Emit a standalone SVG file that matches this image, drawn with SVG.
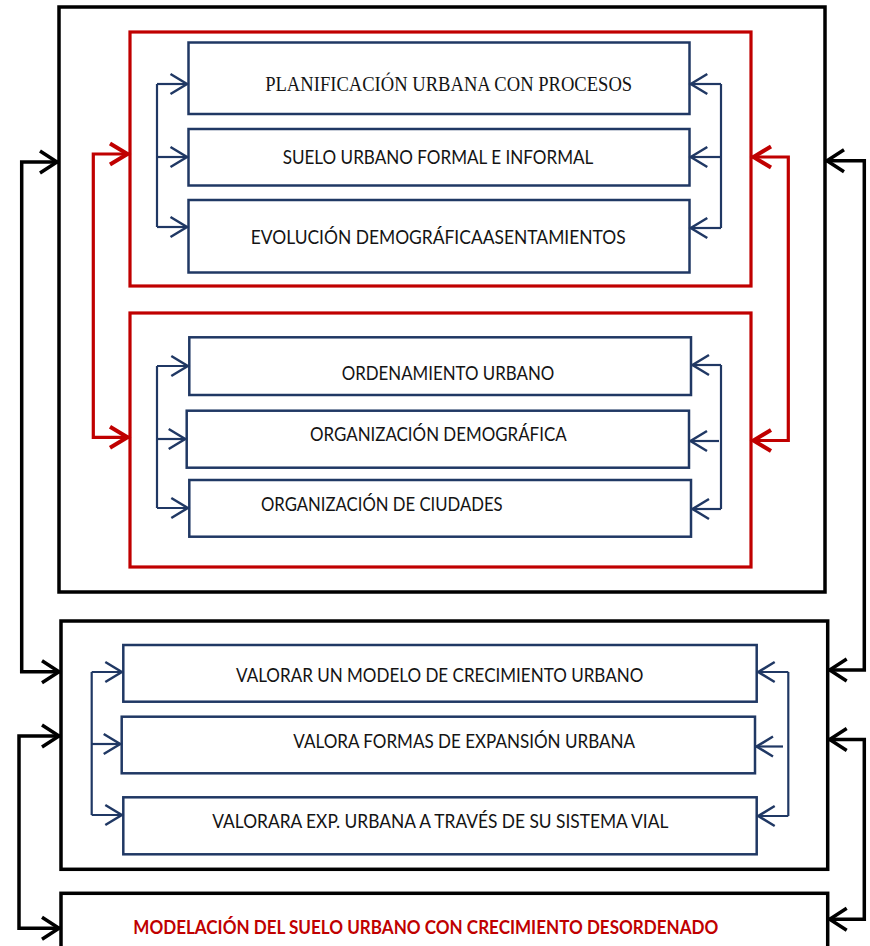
<svg xmlns="http://www.w3.org/2000/svg" width="870" height="946" viewBox="0 0 870 946">
<style>
.bg{fill:#ffffff}
.blk{fill:#ffffff;stroke:#000000;stroke-width:3.5}
.red{fill:none;stroke:#C00000;stroke-width:3.2}
.blu{fill:#ffffff;stroke:#203864;stroke-width:2.5}
.t{font-family:Lato,"Open Sans","Liberation Sans",sans-serif;font-size:19px;fill:#141414;text-anchor:middle}
.ts{font-family:"Liberation Serif","Times New Roman",serif;font-size:20px;fill:#141414;text-anchor:middle}
.tr{font-family:Lato,"Open Sans","Liberation Sans",sans-serif;font-size:19px;font-weight:bold;fill:#C00000;text-anchor:middle}
.cb{fill:none;stroke:#203864;stroke-width:2.2}
.cr{fill:none;stroke:#C00000;stroke-width:3.2}
.ck{fill:none;stroke:#000000;stroke-width:3.5}
</style>
<defs>
<marker id="mb" markerUnits="userSpaceOnUse" markerWidth="30" markerHeight="30" refX="0" refY="0" orient="auto-start-reverse" overflow="visible">
<path d="M-18,-10 L-1.5,0 L-18,10" fill="none" stroke="#203864" stroke-width="2.5"/>
</marker>
<marker id="mr" markerUnits="userSpaceOnUse" markerWidth="30" markerHeight="30" refX="0" refY="0" orient="auto-start-reverse" overflow="visible">
<path d="M-20,-10.5 L-2.5,0 L-20,10.5" fill="none" stroke="#C00000" stroke-width="4"/>
</marker>
<marker id="mk" markerUnits="userSpaceOnUse" markerWidth="30" markerHeight="30" refX="0" refY="0" orient="auto-start-reverse" overflow="visible">
<path d="M-19,-11 L-2,0 L-19,11" fill="none" stroke="#000000" stroke-width="3.5"/>
</marker>
</defs>
<rect class="bg" x="0" y="0" width="870" height="946"/>

<g id="container-top">
<rect class="blk" x="59" y="7" width="766" height="585"/>
</g>
<g id="group-red-1">
<rect class="red" x="130" y="32" width="621" height="254"/>
</g>
<g id="group-red-2">
<rect class="red" x="130" y="313" width="621" height="254"/>
</g>

<g id="n-planificacion">
<rect class="blu" x="188.5" y="42.5" width="501" height="71.5"/>
<text class="ts" x="448.7" y="90.5" textLength="367" lengthAdjust="spacingAndGlyphs">PLANIFICACIÓN URBANA CON PROCESOS</text>
</g>
<g id="n-suelo">
<rect class="blu" x="188.5" y="129" width="501" height="56.5"/>
<text class="t" x="438" y="164" textLength="310.6" lengthAdjust="spacingAndGlyphs">SUELO URBANO FORMAL E INFORMAL</text>
</g>
<g id="n-evolucion">
<rect class="blu" x="188.5" y="200" width="501" height="72.5"/>
<text class="t" x="438.2" y="244" textLength="375" lengthAdjust="spacingAndGlyphs">EVOLUCIÓN DEMOGRÁFICAASENTAMIENTOS</text>
</g>
<g id="n-ordenamiento">
<rect class="blu" x="189.3" y="337.3" width="501.7" height="57.7"/>
<text class="t" x="448" y="380" textLength="212.6" lengthAdjust="spacingAndGlyphs">ORDENAMIENTO URBANO</text>
</g>
<g id="n-org-demografica">
<rect class="blu" x="186.7" y="410.7" width="502.3" height="57"/>
<text class="t" x="438.3" y="441" textLength="256.7" lengthAdjust="spacingAndGlyphs">ORGANIZACIÓN DEMOGRÁFICA</text>
</g>
<g id="n-org-ciudades">
<rect class="blu" x="189.3" y="480" width="501.7" height="56.7"/>
<text class="t" x="381.8" y="511" textLength="241.7" lengthAdjust="spacingAndGlyphs">ORGANIZACIÓN DE CIUDADES</text>
</g>

<g id="container-mid">
<rect class="blk" x="61" y="621" width="766.7" height="248.3"/>
</g>
<g id="n-valorar-modelo">
<rect class="blu" x="123.3" y="645" width="633.4" height="56.7"/>
<text class="t" x="439.7" y="681.5" textLength="407.3" lengthAdjust="spacingAndGlyphs">VALORAR UN MODELO DE CRECIMIENTO URBANO</text>
</g>
<g id="n-valora-formas">
<rect class="blu" x="121.7" y="716.7" width="633.3" height="56.6"/>
<text class="t" x="464.2" y="748.3" textLength="341.7" lengthAdjust="spacingAndGlyphs">VALORA FORMAS DE EXPANSIÓN URBANA</text>
</g>
<g id="n-valorara-exp">
<rect class="blu" x="123.3" y="797.3" width="633.4" height="57"/>
<text class="t" x="440.3" y="828.3" textLength="456" lengthAdjust="spacingAndGlyphs">VALORARA EXP. URBANA A TRAVÉS DE SU SISTEMA VIAL</text>
</g>

<g id="n-modelacion">
<rect class="blk" x="61" y="893.3" width="766.7" height="70"/>
<text class="tr" x="425.8" y="934" textLength="585" lengthAdjust="spacingAndGlyphs">MODELACIÓN DEL SUELO URBANO CON CRECIMIENTO DESORDENADO</text>
</g>

<g id="connectors">
<!-- blue, top group -->
<path class="cb" d="M157,84 V227"/>
<path class="cb" d="M157,84 H188.5" marker-end="url(#mb)"/>
<path class="cb" d="M157,157 H188.5" marker-end="url(#mb)"/>
<path class="cb" d="M157,227 H188.5" marker-end="url(#mb)"/>
<path class="cb" d="M721,84 V228"/>
<path class="cb" d="M721,84 H689.3" marker-end="url(#mb)"/>
<path class="cb" d="M721,157 H689.3" marker-end="url(#mb)"/>
<path class="cb" d="M721,228 H689.3" marker-end="url(#mb)"/>
<!-- blue, middle group -->
<path class="cb" d="M157,366 V508"/>
<path class="cb" d="M157,366 H189.3" marker-end="url(#mb)"/>
<path class="cb" d="M157,439 H186.7" marker-end="url(#mb)"/>
<path class="cb" d="M157,508 H189.3" marker-end="url(#mb)"/>
<path class="cb" d="M721,365 V509"/>
<path class="cb" d="M721,365 H691" marker-end="url(#mb)"/>
<path class="cb" d="M719,441 H689" marker-end="url(#mb)"/>
<path class="cb" d="M721,509 H691" marker-end="url(#mb)"/>
<!-- blue, lower group -->
<path class="cb" d="M91.7,672 V815"/>
<path class="cb" d="M91.7,672 H123.3" marker-end="url(#mb)"/>
<path class="cb" d="M91.7,744 H121.7" marker-end="url(#mb)"/>
<path class="cb" d="M91.7,815 H123.3" marker-end="url(#mb)"/>
<path class="cb" d="M788.3,672 V816"/>
<path class="cb" d="M788.3,672 H756.7" marker-end="url(#mb)"/>
<path class="cb" d="M783,746.5 H755" marker-end="url(#mb)"/>
<path class="cb" d="M788.3,816 H756.7" marker-end="url(#mb)"/>
<!-- red -->
<path class="cr" d="M130,154 H93.3 V437.3 H130" marker-start="url(#mr)" marker-end="url(#mr)"/>
<path class="cr" d="M751,157 H788.3 V440.5 H751" marker-start="url(#mr)" marker-end="url(#mr)"/>
<!-- black -->
<path class="ck" d="M59,162 H21.7 V671.7 H61" marker-start="url(#mk)" marker-end="url(#mk)"/>
<path class="ck" d="M825,160.7 H864.3 V670 H827.7" marker-start="url(#mk)" marker-end="url(#mk)"/>
<path class="ck" d="M61,736 H19 V928.3 H61" marker-start="url(#mk)" marker-end="url(#mk)"/>
<path class="ck" d="M827.7,739.5 H864.3 V919.3 H827.7" marker-start="url(#mk)" marker-end="url(#mk)"/>
</g>
</svg>
